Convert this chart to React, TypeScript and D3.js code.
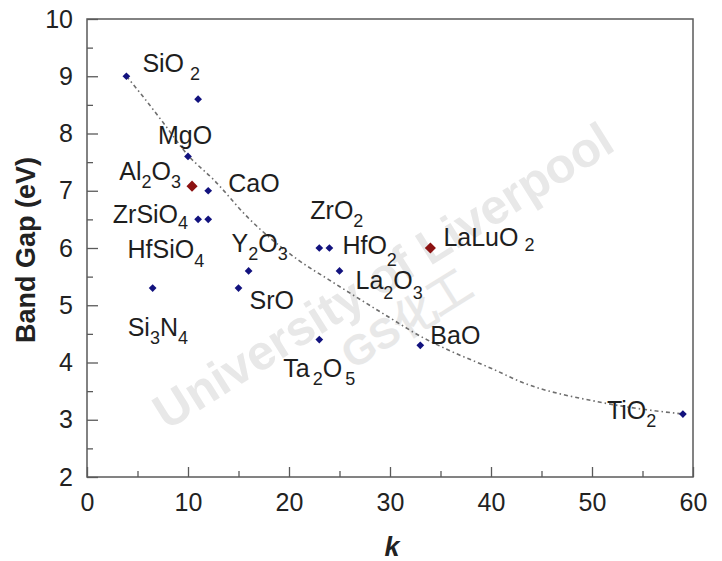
import React, { useRef, useEffect } from 'react';
import * as d3 from 'd3';

// materials, "_" marks a subscript digit; "" = unlabeled point
const materials = ["SiO_2", "", "MgO", "Al_2O_3", "CaO", "ZrSiO_4", "HfSiO_4", "Si_3N_4", "Y_2O_3", "SrO", "ZrO_2", "HfO_2", "La_2O_3", "Ta_2O_5", "BaO", "LaLuO_2", "TiO_2"];
const kValues = [3.9, 11, 10, 10.4, 12, 11, 12, 6.5, 16, 15, 23, 24, 25, 23, 33, 34, 59];
const bandGaps = [9.0, 8.6, 7.6, 7.08, 7.0, 6.5, 6.5, 5.3, 5.6, 5.3, 6.0, 6.0, 5.6, 4.4, 4.3, 6.0, 3.1];
const highlighted = ["Al_2O_3", "LaLuO_2"];

// dotted trend line
const trendK = [3.9, 5.3, 7.5, 10, 12.5, 16, 21, 24, 30, 33, 36, 40, 43, 51, 59];
const trendGap = [9.0, 8.7, 8.2, 7.62, 7.2, 6.52, 5.78, 5.44, 4.78, 4.46, 4.2, 3.9, 3.66, 3.3, 3.1];

const xTicks = [0, 10, 20, 30, 40, 50, 60];
const yTicks = [2, 3, 4, 5, 6, 7, 8, 9, 10];

// label placement, pixels relative to the point
const labelPos = {
  "SiO_2": { dx: 16, dy: -4, anchor: "start", gap: 6 },
  "MgO": { dx: -30, dy: -12, anchor: "start" },
  "Al_2O_3": { dx: -11, dy: -6, anchor: "end" },
  "CaO": { dx: 20, dy: 1, anchor: "start" },
  "ZrSiO_4": { dx: -10, dy: 4, anchor: "end", sub: 6 },
  "HfSiO_4": { dx: -4, dy: 39, anchor: "end", sub: 9 },
  "Si_3N_4": { dx: -25, dy: 48, anchor: "start" },
  "Y_2O_3": { dx: -17, dy: -19, anchor: "start" },
  "SrO": { dx: 11, dy: 21, anchor: "start" },
  "ZrO_2": { dx: -9, dy: -29, anchor: "start" },
  "HfO_2": { dx: 13, dy: 6, anchor: "start", sub: 12 },
  "La_2O_3": { dx: 16, dy: 18, anchor: "start", sub: 10 },
  "Ta_2O_5": { dx: -36, dy: 37, anchor: "start", gap: 3 },
  "BaO": { dx: 10, dy: -1, anchor: "start" },
  "LaLuO_2": { dx: 13, dy: -2, anchor: "start", gap: 6, sub: 5 },
  "TiO_2": { dx: -76, dy: 5, anchor: "start" },
};

function BandGapChart() {
  const svgRef = useRef(null);

  useEffect(() => {
    const svg = d3.select(svgRef.current);
    svg.selectAll("*").remove();

    const width = 722;
    const height = 561;
    const margin = { top: 19, right: 29, bottom: 84, left: 87 };
    const font = "'Liberation Sans', Arial, Helvetica, sans-serif";
    const axisColor = "#5a5a5a";

    const x = d3.scaleLinear().domain([0, 60]).range([margin.left, width - margin.right]);
    const y = d3.scaleLinear().domain([2, 10]).range([height - margin.bottom, margin.top]);

    svg.attr("width", width).attr("height", height)
      .style("font-family", font);

    svg.append("rect").attr("width", width).attr("height", height).attr("fill", "white");

    // watermark
    const wm = svg.append("g").attr("fill", "#e8e8e8").style("font-weight", "bold");
    wm.append("text")
      .attr("transform", "translate(392,290) rotate(-32)")
      .attr("text-anchor", "middle")
      .style("font-size", "49px")
      .text("University of Liverpool");
    wm.append("text")
      .attr("transform", "translate(414,332) rotate(-32)")
      .attr("text-anchor", "middle")
      .style("font-size", "42px")
      .text("GS化工");

    // frame
    svg.append("rect")
      .attr("x", x(0)).attr("y", y(10))
      .attr("width", x(60) - x(0)).attr("height", y(2) - y(10))
      .attr("fill", "none").attr("stroke", axisColor).attr("stroke-width", 1.5);

    // minor ticks
    const minorX = d3.range(5, 60, 10);
    const minorY = d3.range(2.5, 10, 1);
    svg.append("g")
      .attr("transform", `translate(0,${y(2)})`)
      .call(d3.axisBottom(x).tickValues(minorX).tickSize(-6).tickFormat(() => ""))
      .call(g => g.select(".domain").remove())
      .call(g => g.selectAll("line").attr("stroke", axisColor).attr("stroke-width", 1.3));
    svg.append("g")
      .attr("transform", `translate(${x(0)},0)`)
      .call(d3.axisLeft(y).tickValues(minorY).tickSize(-6).tickFormat(() => ""))
      .call(g => g.select(".domain").remove())
      .call(g => g.selectAll("line").attr("stroke", axisColor).attr("stroke-width", 1.3));

    // major ticks + labels
    svg.append("g")
      .attr("transform", `translate(0,${y(2)})`)
      .call(d3.axisBottom(x).tickValues(xTicks).tickSize(-10).tickPadding(16).tickFormat(d3.format("d")))
      .call(g => g.select(".domain").remove())
      .call(g => g.selectAll("line").attr("stroke", axisColor).attr("stroke-width", 1.3))
      .call(g => g.selectAll("text").attr("fill", "#222").style("font-size", "25px").style("font-family", font));
    svg.append("g")
      .attr("transform", `translate(${x(0)},0)`)
      .call(d3.axisLeft(y).tickValues(yTicks).tickSize(-11).tickPadding(14).tickFormat(d3.format("d")))
      .call(g => g.select(".domain").remove())
      .call(g => g.selectAll("line").attr("stroke", axisColor).attr("stroke-width", 1.3))
      .call(g => g.selectAll("text").attr("fill", "#222").style("font-size", "25px").style("font-family", font));

    // axis titles
    svg.append("text")
      .attr("transform", `translate(35,${(y(2) + y(10)) / 2 + 2}) rotate(-90)`)
      .attr("text-anchor", "middle")
      .attr("fill", "#222")
      .style("font-size", "27px").style("font-weight", "bold")
      .text("Band Gap (eV)");
    svg.append("text")
      .attr("x", (x(0) + x(60)) / 2 + 2).attr("y", 556)
      .attr("text-anchor", "middle")
      .attr("fill", "#222")
      .style("font-size", "27px").style("font-weight", "bold").style("font-style", "italic")
      .text("k");

    // trend line
    const line = d3.line().x(d => x(d[0])).y(d => y(d[1])).curve(d3.curveMonotoneX);
    svg.append("path")
      .datum(trendK.map((k, i) => [k, trendGap[i]]))
      .attr("d", line)
      .attr("fill", "none")
      .attr("stroke", "#6e6e6e")
      .attr("stroke-width", 1.6)
      .attr("stroke-dasharray", "4,3,1.5,3");

    // points (square turned 45deg = diamond)
    const points = materials.map((m, i) => ({ name: m, k: kValues[i], gap: bandGaps[i], red: highlighted.includes(m) }));
    const square = d3.symbol().type(d3.symbolSquare);
    svg.append("g").selectAll("path")
      .data(points)
      .enter()
      .append("path")
      .attr("transform", d => `translate(${x(d.k)},${y(d.gap)}) rotate(45)`)
      .attr("d", d => square.size(d.red ? 62 : 30)())
      .attr("fill", d => d.red ? "#8c1212" : "#12127e");

    // labels
    const labels = svg.append("g").attr("fill", "#1e1e1e");
    points.filter(d => d.name).forEach(d => {
      const p = labelPos[d.name];
      const t = labels.append("text")
        .attr("x", x(d.k) + p.dx)
        .attr("y", y(d.gap) + p.dy)
        .attr("text-anchor", p.anchor)
        .style("font-size", "25px");
      const parts = d.name.split(/(_\d)/).filter(s => s);
      let shifted = false;
      const sub = p.sub || 8;
      parts.forEach(s => {
        if (s.startsWith("_")) {
          t.append("tspan")
            .attr("dy", shifted ? 0 : sub)
            .attr("dx", p.gap && !shifted ? p.gap : (p.gap && s === parts[parts.length - 1] ? p.gap : 0))
            .style("font-size", "18px")
            .text(s.slice(1));
          shifted = true;
        } else {
          t.append("tspan")
            .attr("dy", shifted ? -sub : 0)
            .text(s);
          shifted = false;
        }
      });
    });
  }, []);

  return <svg ref={svgRef} style={{ position: "absolute", left: 0, top: 0 }}></svg>;
}

export default function App() {
  return <BandGapChart />;
}
